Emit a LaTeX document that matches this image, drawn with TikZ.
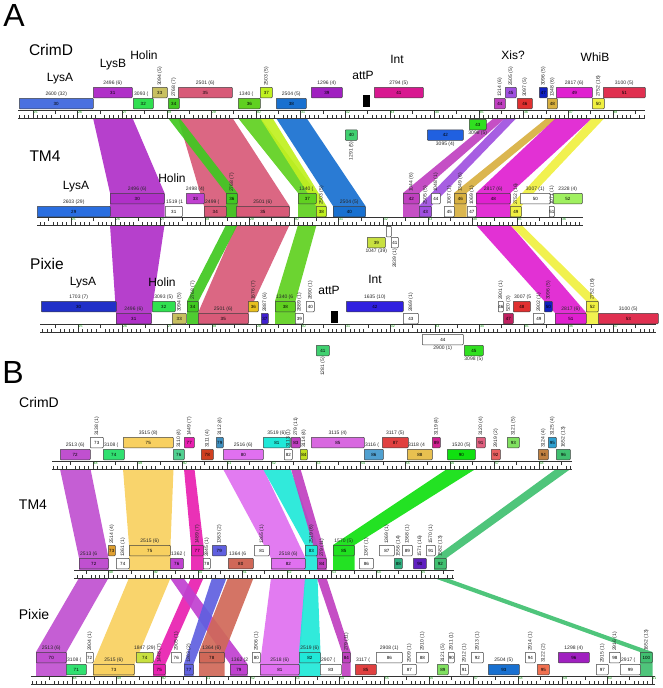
\documentclass[tikz,border=0pt]{standalone}
\usepackage{fontspec}
\setmainfont{Liberation Sans}
\usetikzlibrary{positioning, backgrounds}

% gene colours
\definecolor{blueA}{HTML}{4A70E0}\definecolor{blueB}{HTML}{1870D0}\definecolor{blueC}{HTML}{2060E0}
\definecolor{blueD}{HTML}{2A6EE0}\definecolor{blueE}{HTML}{2030C8}\definecolor{blueF}{HTML}{6060E0}
\definecolor{dblue}{HTML}{1020C0}\definecolor{violetA}{HTML}{4020D0}\definecolor{violetB}{HTML}{3020E0}
\definecolor{violetC}{HTML}{E070F0}\definecolor{violetD}{HTML}{D868E0}
\definecolor{purpleB}{HTML}{B030C8}\definecolor{purpleC}{HTML}{A020C0}\definecolor{purpleD}{HTML}{A050E0}
\definecolor{purpleE}{HTML}{C040D0}\definecolor{purpleF}{HTML}{C050D0}\definecolor{purpleG}{HTML}{C040C0}
\definecolor{purpleH}{HTML}{C040D0}\definecolor{purpleI}{HTML}{6020C0}
\definecolor{greenB}{HTML}{30E050}\definecolor{greenC}{HTML}{40C820}\definecolor{greenD}{HTML}{60D020}
\definecolor{greenE}{HTML}{30E020}\definecolor{greenF}{HTML}{40D070}\definecolor{greenG}{HTML}{30E070}
\definecolor{greenH}{HTML}{10E010}\definecolor{greenI}{HTML}{40C070}\definecolor{greenJ}{HTML}{20E020}
\definecolor{lgreen}{HTML}{A0F060}\definecolor{lgreenB}{HTML}{80E060}
\definecolor{ygreen}{HTML}{C0F020}\definecolor{ygreenB}{HTML}{C0E020}\definecolor{ygreenC}{HTML}{C8E040}
\definecolor{olive}{HTML}{C8C060}\definecolor{rose}{HTML}{D85A78}\definecolor{magA}{HTML}{D81890}
\definecolor{magB}{HTML}{C040C0}\definecolor{magC}{HTML}{E020D0}\definecolor{magD}{HTML}{E820B0}
\definecolor{magE}{HTML}{D02090}\definecolor{dpink}{HTML}{C02060}\definecolor{pinkA}{HTML}{E06080}
\definecolor{redA}{HTML}{E03030}\definecolor{redB}{HTML}{E03050}\definecolor{redC}{HTML}{D04020}
\definecolor{redD}{HTML}{E04040}\definecolor{salmonA}{HTML}{E86060}\definecolor{salmonB}{HTML}{F07050}
\definecolor{brown}{HTML}{D06858}\definecolor{gold}{HTML}{D8B040}\definecolor{goldB}{HTML}{E8C050}
\definecolor{tan}{HTML}{C08040}\definecolor{orange}{HTML}{E0A030}
\definecolor{yellowA}{HTML}{F0F040}\definecolor{yellowB}{HTML}{E8C020}\definecolor{yellowC}{HTML}{F8D060}
\definecolor{teal}{HTML}{50D090}\definecolor{teal2}{HTML}{30B080}\definecolor{cyan}{HTML}{20E8D8}
\definecolor{steelA}{HTML}{4090C0}\definecolor{steelB}{HTML}{50A0D0}\definecolor{steelC}{HTML}{30A0D0}

% gene box: name, top, left, right, colour, number
\newcommand{\genebox}[6]{\node[gene, fill=#5, minimum width={(#4-#3)*1pt}] (#1) at (#3,#2) {#6};}
% label above
\newcommand{\gene}[7]{\genebox{#1}{#2}{#3}{#4}{#5}{#6}\node[glab, anchor=south] (#1l) at (#1.north) {#7};}
% label turned upright
\newcommand{\rgene}[7]{\genebox{#1}{#2}{#3}{#4}{#5}{#6}\node[glab, rotate=90, anchor=west] (#1l) at (#1.north) {#7};}
% label cut off by the next gene
\newcommand{\lgene}[7]{\genebox{#1}{#2}{#3}{#4}{#5}{#6}\node[glab, anchor=south west] (#1l) at (#1.north west) {#7};}
% genes under the ruler
\newcommand{\bgene}[7]{\genebox{#1}{#2}{#3}{#4}{#5}{#6}\node[glab, anchor=north] (#1l) at (#1.south) {#7};}
\newcommand{\brgene}[7]{\genebox{#1}{#2}{#3}{#4}{#5}{#6}\node[glab, rotate=90, anchor=east] (#1l) at (#1.south) {#7};}

% ruler: left, right, top, first kb tick, first kb, prefix
\newcommand{\ruler}[6]{%
  \draw[scaleline] (#1,#3) -- (#2,#3);
  \draw[scaleline] (#1,#3+8) -- (#2,#3+8);
  \pgfmathtruncatemacro{\ia}{ceil((#1-#4)/4.46)}
  \pgfmathtruncatemacro{\ib}{floor((#2-#4)/4.46)}
  \foreach \i in {\ia,...,\ib}{
    \pgfmathsetmacro{\xt}{#4+\i*4.46}
    \pgfmathtruncatemacro{\mt}{Mod(\i,10)}
    \pgfmathtruncatemacro{\mh}{Mod(\i,5)}
    \ifnum\mt=0
      \draw[scaleline] (\xt,#3) -- (\xt,#3+8);
      \pgfmathtruncatemacro{\kbnum}{#5+\i/10}
      \node[kblab, anchor=north west] (#6kb\i) at (\xt,#3) {\kbnum};
    \else\ifnum\mh=0
      \draw[scaleline] (\xt,#3) -- (\xt,#3+4);
    \else
      \draw[scaleline] (\xt,#3+8) -- (\xt,#3+5);
    \fi\fi}}

% homology band: colour, from gene(s), from ruler, to gene(s), to ruler
\newcommand{\band}[7]{\fill[band, #1] (#2.west |- #4) -- (#3.east |- #4) -- (#6.north east) -- (#6.east |- #7) -- (#5.west |- #7) -- (#5.north west) -- cycle;}

\begin{document}
\begin{tikzpicture}[x=1pt, y=-1pt]
    % Styles
    \tikzstyle{gene} = [rectangle, draw=black!75, line width=0.5pt, rounded corners=0.8pt, minimum height=10.5pt, inner sep=0pt, anchor=north west, font=\fontsize{4.5}{4.5}\selectfont]
    \tikzstyle{glab} = [inner sep=1pt, font=\fontsize{5}{5}\selectfont, text=black!85]
    \tikzstyle{feat} = [inner sep=0pt, font=\fontsize{12}{12}\selectfont]
    \tikzstyle{genome} = [inner sep=0pt, font=\fontsize{15.5}{16}\selectfont]
    \tikzstyle{genomeB} = [inner sep=0pt, font=\fontsize{14}{14}\selectfont]
    \tikzstyle{panel} = [inner sep=0pt, font=\fontsize{32}{32}\selectfont]
    \tikzstyle{scaleline} = [draw=black!80, line width=0.45pt]
    \tikzstyle{kblab} = [inner sep=0.4pt, font=\fontsize{3.5}{3.5}\selectfont, text=green!55!black]
    \tikzstyle{band} = [fill opacity=0.92]
    \tikzstyle{site} = [rectangle, fill=black, minimum width=7pt, minimum height=12pt, inner sep=0pt, anchor=north west]

    \useasboundingbox (0,0) rectangle (662,688);

    % Titles
    \node[panel] (pA) at (14,15) {A};
    \node[panel] (pB) at (13,372) {B};
    \node[genome] (nCrimDA) at (51,50) {CrimD};
    \node[genome] (nTMA) at (45,156) {TM4};
    \node[genome] (nPixieA) at (47,264) {Pixie};
    \node[genomeB] (nCrimDB) at (39,402) {CrimD};
    \node[genomeB] (nTMB) at (33,505) {TM4};
    \node[genomeB] (nPixieB) at (34,614) {Pixie};

    % Features
    \node[feat] (fLysA1) at (60,79) {LysA};
    \node[feat] (fLysB1) at (113,65) {LysB};
    \node[feat] (fHolin1) at (144,55) {Holin};
    \node[feat] (fattP1) at (363,75) {attP};
    \node[feat] (fInt1) at (397,59) {Int};
    \node[feat] (fXis1) at (513,55) {Xis?};
    \node[feat] (fWhiB1) at (595,57) {WhiB};
    \node[feat] (fLysA2) at (76,187) {LysA};
    \node[feat] (fHolin2) at (172,178) {Holin};
    \node[feat] (fLysA3) at (83,283) {LysA};
    \node[feat] (fHolin3) at (162,282) {Holin};
    \node[feat] (fattP3) at (329,290) {attP};
    \node[feat] (fInt3) at (375,279) {Int};

    % Rulers
    \ruler{18}{645}{110}{33}{25}{ca}
    \ruler{37}{583}{217}{71}{25}{ta}
    \ruler{40}{656}{324}{78}{25}{pa}
    \ruler{52}{572}{461}{93}{48}{cb}
    \ruler{74}{454}{570}{108.6}{48}{tb}
    \ruler{31}{655}{676}{72}{48}{pb}
    \coordinate (caBot) at (0,118);
    \coordinate (taTop) at (0,217);
    \coordinate (taBot) at (0,225);
    \coordinate (paTop) at (0,324);
    \coordinate (cbBot) at (0,469);
    \coordinate (tbTop) at (0,570);
    \coordinate (tbBot) at (0,578);
    \coordinate (pbTop) at (0,676);

    % CrimD (A)
    \gene{ca30}{98}{19}{93}{blueA}{30}{2600 (32)}
    \gene{ca31}{87}{93}{132}{purpleB}{31}{2496 (6)}
    \lgene{ca32}{98}{133}{153}{greenB}{32}{3093 (}
    \rgene{ca33}{87}{152}{167}{olive}{33}{3094 (5)}
    \rgene{ca34}{98}{168}{179}{greenC}{34}{2768 (7)}
    \gene{ca35}{87}{178}{232}{rose}{35}{2501 (6)}
    \lgene{ca36}{98}{238}{260}{greenD}{36}{1340 (}
    \rgene{ca37}{87}{260}{272}{ygreen}{37}{2503 (5)}
    \gene{ca38}{98}{276}{306}{blueB}{38}{2504 (5)}
    \gene{ca39}{87}{311}{342}{purpleC}{39}{1296 (4)}
    \gene{ca41}{87}{374}{423}{magA}{41}{2794 (5)}
    \rgene{ca44}{98}{494}{505}{magB}{44}{1314 (6)}
    \rgene{ca45}{87}{505}{516}{purpleD}{45}{2505 (5)}
    \rgene{ca46}{98}{517}{532}{redA}{46}{3097 (5)}
    \rgene{ca47}{87}{539}{547}{dblue}{47}{3096 (5)}
    \rgene{ca48}{98}{547}{557}{gold}{48}{1348 (6)}
    \gene{ca49}{87}{556}{592}{magC}{49}{2817 (6)}
    \rgene{ca50}{98}{592}{604}{yellowA}{50}{2752 (16)}
    \gene{ca51}{87}{603}{645}{redB}{51}{3100 (5)}
    \bgene{ca43}{119}{469}{486}{greenE}{43}{3098 (5)}
    \brgene{ca40}{129.5}{345}{357}{greenF}{40}{1291 (5)}
    \bgene{ca42}{129.5}{427}{463}{blueC}{42}{3095 (4)}
    \node[site] (caattP) at (363,95) {};

    % TM4 (A)
    \gene{ta29}{206}{37}{110}{blueD}{29}{2603 (29)}
    \gene{ta30}{193}{110}{164}{purpleB}{30}{2496 (6)}
    \lgene{ta31}{206}{165}{182}{white}{31}{1519 (1}
    \gene{ta33}{193}{186}{204}{purpleE}{33}{2498 (4)}
    \lgene{ta34}{206}{204}{226}{rose}{34}{2499 (}
    \rgene{ta36}{193}{226}{237}{greenC}{36}{2768 (7)}
    \gene{ta35}{206}{236}{289}{rose}{35}{2501 (6)}
    \lgene{ta37}{193}{298}{316}{greenD}{37}{1340 (}
    \rgene{ta38}{206}{316}{326}{ygreen}{38}{2503 (5)}
    \gene{ta40}{206}{333}{365}{blueB}{40}{2504 (5)}
    \rgene{ta42}{193}{403}{419}{magB}{42}{1044 (6)}
    \rgene{ta43}{206}{419}{431}{purpleD}{43}{2505 (5)}
    \rgene{ta44}{193}{431}{440}{white}{44}{1048 (1)}
    \rgene{ta45}{206}{444}{454}{white}{45}{1067 (1)}
    \rgene{ta46}{193}{454}{466}{gold}{46}{1349 (6)}
    \rgene{ta47}{206}{467}{476}{white}{47}{1069 (1)}
    \gene{ta48}{193}{476}{510}{magC}{48}{2817 (6)}
    \rgene{ta49}{206}{510}{521}{yellowA}{49}{2752 (16)}
    \gene{ta50}{193}{520}{550}{white}{50}{3007 (1)}
    \rgene{ta51}{206}{549}{554}{white}{51}{1071 (1)}
    \gene{ta52}{193}{553}{582}{lgreen}{52}{2328 (4)}
    \bgene{ta39}{237}{367}{385}{ygreenC}{39}{1047 (39)}
    \genebox{ta32}{226}{386}{391}{white}{}
    \brgene{ta41}{237}{391}{398}{white}{41}{2839 (1)}

    % Pixie (A)
    \gene{pa30}{301}{41}{116}{blueE}{30}{1703 (7)}
    \gene{pa31}{313}{116}{151}{purpleB}{31}{2496 (6)}
    \gene{pa32}{301}{152}{175}{greenB}{32}{3093 (5)}
    \rgene{pa33}{313}{172}{186}{olive}{33}{3094 (5)}
    \rgene{pa34}{301}{187}{198}{greenC}{34}{2768 (7)}
    \gene{pa35}{313}{198}{248}{rose}{35}{2501 (6)}
    \rgene{pa36}{301}{248}{258}{yellowB}{36}{1676 (7)}
    \rgene{pa37}{313}{261}{268}{violetA}{37}{2887 (6)}
    \lgene{pa38}{301}{275}{295}{greenD}{38}{1340 (6}
    \rgene{pa39}{313}{295}{303}{white}{39}{2889 (1)}
    \rgene{pa40}{301}{306}{314}{white}{40}{2890 (1)}
    \gene{pa42}{301}{346}{403}{violetB}{42}{1635 (10)}
    \rgene{pa43}{313}{403}{418}{white}{43}{2869 (1)}
    \rgene{pa46}{301}{498}{503}{white}{46}{2901 (1)}
    \rgene{pa47}{313}{503}{513}{dpink}{47}{520 (3)}
    \lgene{pa48}{301}{513}{530}{redA}{48}{3007 (5}
    \rgene{pa49}{313}{533}{544}{white}{49}{2902 (1)}
    \rgene{pa50}{301}{544}{552}{dblue}{50}{3096 (5)}
    \gene{pa51}{313}{555}{586}{magC}{51}{2817 (6)}
    \rgene{pa52}{301}{586}{598}{yellowA}{52}{2752 (16)}
    \gene{pa53}{313}{598}{658}{redB}{53}{3100 (5)}
    \bgene{pa44}{334}{422}{463}{white}{44}{2900 (1)}
    \brgene{pa41}{345}{316}{329}{greenF}{41}{1281 (5)}
    \bgene{pa45}{345}{464}{483}{greenE}{45}{3098 (5)}
    \node[site] (paattP) at (331,311) {};

    % CrimD (B)
    \gene{cb72}{449}{60}{90}{purpleF}{72}{2513 (6)}
    \rgene{cb73}{437}{90}{103}{white}{73}{3138 (1)}
    \lgene{cb74}{449}{103}{124}{greenG}{74}{3108 (}
    \gene{cb75}{437}{123}{173}{yellowC}{75}{3515 (8)}
    \rgene{cb76}{449}{173}{184}{teal}{76}{3110 (4)}
    \rgene{cb77}{437}{184}{194}{magD}{77}{1449 (7)}
    \rgene{cb78}{449}{201}{213}{redC}{78}{3111 (4)}
    \rgene{cb79}{437}{216}{223}{steelA}{79}{3112 (4)}
    \gene{cb80}{449}{223}{263}{violetC}{80}{2516 (6)}
    \gene{cb81}{437}{263}{290}{cyan}{81}{3519 (6)}
    \rgene{cb82}{449}{284}{292}{white}{82}{3113 (1)}
    \rgene{cb83}{437}{291}{300}{purpleG}{83}{279 (11)}
    \rgene{cb84}{449}{300}{307}{ygreenB}{84}{3114 (4)}
    \gene{cb85}{437}{311}{364}{violetD}{85}{3115 (4)}
    \lgene{cb86}{449}{364}{383}{steelB}{86}{3116 (}
    \gene{cb87}{437}{382}{408}{redD}{87}{3117 (5)}
    \lgene{cb88}{449}{407}{432}{goldB}{88}{3118 (4}
    \rgene{cb89}{437}{432}{440}{magE}{89}{3119 (4)}
    \gene{cb90}{449}{447}{475}{greenH}{90}{1520 (5)}
    \rgene{cb91}{437}{476}{485}{pinkA}{91}{3120 (4)}
    \rgene{cb92}{449}{491}{500}{salmonA}{92}{2919 (2)}
    \rgene{cb93}{437}{507}{519}{lgreenB}{93}{3121 (5)}
    \rgene{cb94}{449}{538}{548}{tan}{94}{3124 (4)}
    \rgene{cb95}{437}{548}{556}{steelC}{95}{3125 (4)}
    \rgene{cb96}{449}{556}{570}{greenI}{96}{1652 (13)}

    % TM4 (B)
    \lgene{tb72}{558}{79}{108}{purpleF}{72}{2513 (6}
    \rgene{tb73}{545}{108}{115}{orange}{73}{2514 (4)}
    \rgene{tb74}{558}{116}{129}{white}{74}{1361 (1)}
    \gene{tb75}{545}{129}{170}{yellowC}{75}{2515 (6)}
    \lgene{tb76}{558}{170}{183}{purpleH}{76}{1362 (}
    \rgene{tb77}{545}{191}{203}{magD}{77}{1489 (7)}
    \rgene{tb78}{558}{203}{210}{white}{78}{2845 (1)}
    \rgene{tb79}{545}{212}{226}{blueF}{79}{1363 (2)}
    \lgene{tb80}{558}{228}{253}{brown}{80}{1364 (6}
    \rgene{tb81}{545}{254}{269}{white}{81}{1365 (1)}
    \gene{tb82}{558}{271}{305}{violetC}{82}{2518 (6)}
    \rgene{tb83}{545}{305}{317}{cyan}{83}{2519 (6)}
    \rgene{tb84}{558}{317}{326}{purpleG}{84}{279 (11)}
    \gene{tb85}{545}{333}{354}{greenJ}{85}{1570 (5)}
    \rgene{tb86}{558}{359}{373}{white}{86}{1367 (1)}
    \rgene{tb87}{545}{379}{394}{white}{87}{1369 (1)}
    \rgene{tb88}{558}{394}{402}{teal2}{88}{1556 (14)}
    \rgene{tb89}{545}{402}{412}{white}{89}{1368 (1)}
    \rgene{tb90}{558}{413}{426}{purpleI}{90}{1571 (16)}
    \rgene{tb91}{545}{426}{435}{white}{91}{1570 (1)}
    \rgene{tb92}{558}{434}{446}{greenI}{92}{1582 (13)}

    % Pixie (B)
    \gene{pb70}{652}{36}{66}{purpleF}{70}{2513 (6)}
    \lgene{pb71}{664}{66}{86}{greenG}{71}{3108 (}
    \rgene{pb72}{652}{86}{93}{white}{72}{2904 (1)}
    \gene{pb73}{664}{93}{134}{yellowC}{73}{2515 (6)}
    \gene{pb74}{652}{136}{153}{ygreenC}{74}{1847 (29)}
    \rgene{pb75}{664}{153}{165}{magD}{75}{1448 (7)}
    \rgene{pb76}{652}{171}{181}{white}{76}{2905 (1)}
    \rgene{pb77}{664}{184}{193}{blueF}{77}{1363 (2)}
    \gene{pb78}{652}{199}{224}{brown}{78}{1364 (6)}
    \lgene{pb79}{664}{230}{247}{purpleH}{79}{1362 (2}
    \rgene{pb80}{652}{252}{260}{white}{80}{2906 (1)}
    \gene{pb81}{664}{260}{299}{violetC}{81}{2518 (6)}
    \gene{pb82}{652}{299}{320}{cyan}{82}{2519 (6)}
    \lgene{pb83}{664}{320}{341}{white}{83}{2907 (}
    \rgene{pb84}{652}{342}{350}{purpleG}{84}{279 (11)}
    \lgene{pb85}{664}{355}{376}{redD}{85}{3117 (}
    \gene{pb86}{652}{376}{402}{white}{86}{2908 (1)}
    \rgene{pb87}{664}{402}{416}{white}{87}{2909 (1)}
    \rgene{pb88}{652}{416}{428}{white}{88}{2910 (1)}
    \rgene{pb89}{664}{437}{448}{lgreenB}{89}{3121 (5)}
    \rgene{pb90}{652}{448}{454}{white}{90}{2911 (1)}
    \rgene{pb91}{664}{460}{468}{white}{91}{2912 (1)}
    \rgene{pb92}{652}{471}{483}{white}{92}{2913 (1)}
    \gene{pb93}{664}{488}{519}{blueB}{93}{2504 (5)}
    \rgene{pb94}{652}{525}{535}{white}{94}{2914 (1)}
    \rgene{pb95}{664}{537}{549}{salmonB}{95}{3122 (2)}
    \gene{pb96}{652}{558}{589}{purpleC}{96}{1298 (4)}
    \rgene{pb97}{664}{596}{608}{white}{97}{2915 (1)}
    \rgene{pb98}{652}{609}{620}{white}{98}{2916 (1)}
    \lgene{pb99}{664}{620}{640}{white}{99}{2917 (}
    \rgene{pb100}{652}{640}{652}{greenI}{100}{1652 (13)}

    % Bands
    \begin{scope}[on background layer]
    \band{purpleB}{ca31}{ca31}{caBot}{ta30}{ta30}{taTop}
    \band{rose}{ca35}{ca35}{caBot}{ta34}{ta35}{taTop}
    \band{greenC}{ca34}{ca34}{caBot}{ta36}{ta36}{taTop}
    \band{greenD}{ca36}{ca36}{caBot}{ta37}{ta37}{taTop}
    \band{ygreen}{ca37}{ca37}{caBot}{ta38}{ta38}{taTop}
    \band{blueB}{ca38}{ca38}{caBot}{ta40}{ta40}{taTop}
    \band{magB}{ca44}{ca44}{caBot}{ta42}{ta42}{taTop}
    \band{purpleD}{ca45}{ca45}{caBot}{ta43}{ta43}{taTop}
    \band{gold}{ca48}{ca48}{caBot}{ta46}{ta46}{taTop}
    \band{magC}{ca49}{ca49}{caBot}{ta48}{ta48}{taTop}
    \band{yellowA}{ca50}{ca50}{caBot}{ta49}{ta49}{taTop}
    \band{purpleB}{ta30}{ta30}{taBot}{pa31}{pa31}{paTop}
    \band{rose}{ta35}{ta35}{taBot}{pa35}{pa35}{paTop}
    \band{greenC}{ta36}{ta36}{taBot}{pa34}{pa34}{paTop}
    \band{greenD}{ta37}{ta37}{taBot}{pa38}{pa38}{paTop}
    \band{magC}{ta48}{ta48}{taBot}{pa51}{pa51}{paTop}
    \band{yellowA}{ta49}{ta49}{taBot}{pa52}{pa52}{paTop}
    \band{purpleF}{cb72}{cb72}{cbBot}{tb72}{tb72}{tbTop}
    \band{yellowC}{cb75}{cb75}{cbBot}{tb75}{tb75}{tbTop}
    \band{magD}{cb77}{cb77}{cbBot}{tb77}{tb77}{tbTop}
    \band{violetC}{cb80}{cb80}{cbBot}{tb82}{tb82}{tbTop}
    \band{cyan}{cb81}{cb81}{cbBot}{tb83}{tb83}{tbTop}
    \band{purpleG}{cb83}{cb83}{cbBot}{tb84}{tb84}{tbTop}
    \band{greenH}{cb90}{cb90}{cbBot}{tb85}{tb85}{tbTop}
    \band{greenI}{cb96}{cb96}{cbBot}{tb92}{tb92}{tbTop}
    \band{purpleF}{tb72}{tb72}{tbBot}{pb70}{pb70}{pbTop}
    \band{yellowC}{tb75}{tb75}{tbBot}{pb73}{pb73}{pbTop}
    \band{magD}{tb77}{tb77}{tbBot}{pb75}{pb75}{pbTop}
    \band{purpleH}{tb76}{tb76}{tbBot}{pb79}{pb79}{pbTop}
    \band{blueF}{tb79}{tb79}{tbBot}{pb77}{pb77}{pbTop}
    \band{brown}{tb80}{tb80}{tbBot}{pb78}{pb78}{pbTop}
    \band{violetC}{tb82}{tb82}{tbBot}{pb81}{pb81}{pbTop}
    \band{cyan}{tb83}{tb83}{tbBot}{pb82}{pb82}{pbTop}
    \band{purpleG}{tb84}{tb84}{tbBot}{pb84}{pb84}{pbTop}
    \band{greenI}{tb92}{tb92}{tbBot}{pb100}{pb100}{pbTop}
    \end{scope}
\end{tikzpicture}
\end{document}
